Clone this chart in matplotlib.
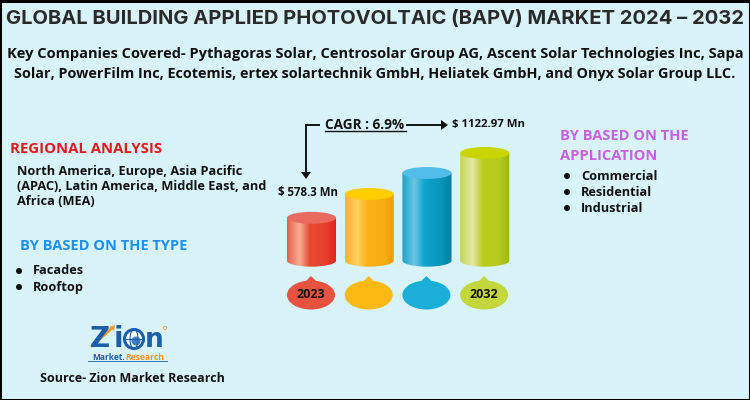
#!/usr/bin/env python3
"""Global BAPV market infographic."""

import matplotlib
matplotlib.use("Agg")
import matplotlib.pyplot as plt
import numpy as np
from matplotlib.colors import LinearSegmentedColormap
from matplotlib.patches import Circle, Ellipse, PathPatch, Polygon
from matplotlib.path import Path

TITLE = "GLOBAL BUILDING APPLIED PHOTOVOLTAIC (BAPV) MARKET 2024 – 2032"
COMPANIES = [
    "Key Companies Covered- Pythagoras Solar, Centrosolar Group AG, Ascent Solar Technologies Inc, Sapa",
    "Solar, PowerFilm Inc, Ecotemis, ertex solartechnik GmbH, Heliatek GmbH, and Onyx Solar Group LLC.",
]
REGIONS = [
    "North America, Europe, Asia Pacific",
    "(APAC), Latin America, Middle East, and",
    "Africa (MEA)",
]
TYPES = ["Facades", "Rooftop"]
APPLICATIONS = ["Commercial", "Residential", "Industrial"]

BAR_VALUES = [578.3, 779, 955, 1122.97]
BAR_YEARS = ["2023", "", "", "2032"]
BAR_BASE = 218

BAR_STOPS = [
    ["#E8604C", "#F9AF95", "#E84B30", "#E53E2A", "#E01F20"],
    ["#FDB52A", "#FFD160", "#FBB016", "#F7AC12", "#E89E10"],
    ["#1E9FCC", "#6CC5E2", "#0FA3CF", "#0895B8", "#057F9F"],
    ["#C5D552", "#E3E9A6", "#B9CE1F", "#B5CA1C", "#A0B320"],
]
TOP_COLORS = ["#E96A5F", "#FFCE00", "#52BCEB", "#CAD400"]
BUBBLE_COLORS = ["#E8533F", "#FDB913", "#1BAFD8", "#C3D63B"]

BG = "#D8F3FA"
INK = "#111111"
BODY_FONT = "Open Sans"

fig = plt.figure(figsize=(7.5, 4), dpi=100, facecolor=BG)

# overlay in pixel coordinates, for all the text and furniture
page = fig.add_axes([0, 0, 1, 1])
page.set_xlim(0, 750)
page.set_ylim(400, 0)
page.axis("off")


def label(x, y, text, size=9.2, color=INK, weight="bold", ha="left", family=BODY_FONT):
    return page.text(x, y, text, fontsize=size, color=color, fontweight=weight,
                     ha=ha, va="center", family=family)


def bullets(x, x_text, y_start, items, step):
    for i, item in enumerate(items):
        y = y_start + i * step
        page.add_patch(Circle((x, y), 2.3, color=INK))
        label(x_text, y, item)


label(375, 19, TITLE, size=14.5, color="#2A2A2A", ha="center", family="Inter")
label(375, 54, COMPANIES[0], size=10.5, ha="center")
label(375, 74, COMPANIES[1], size=10.35, ha="center")

label(10, 149, "REGIONAL ANALYSIS", size=10.7, color="#E01B1B")
for i, line in enumerate(REGIONS):
    label(17, 171.5 + i * 15, line, size=9.2)

label(20, 246, "BY BASED ON THE TYPE", size=10.55, color="#1E90F0")
bullets(19, 32.5, 271, TYPES, 16)

label(560, 136, "BY BASED ON THE", size=10.5, color="#C661E2")
label(560, 156, "APPLICATION", size=10.5, color="#C661E2")
bullets(567, 581, 176, APPLICATIONS, 16)

label(40, 378, "Source- Zion Market Research", size=9.0)

# cylinders
cyl = fig.add_axes([282.6 / 750, 130 / 400, 231 / 750, 130 / 400])
cyl.set_xlim(-0.5, 3.5)
cyl.set_ylim(140, 1232)
cyl.axis("off")
cyl.patch.set_alpha(0)

BAR_W = 0.85
CAP_H = 100
ramp = np.linspace(0, 1, 200).reshape(1, -1)
for i, value in enumerate(BAR_VALUES):
    left, right = i - BAR_W / 2, i + BAR_W / 2
    cmap = LinearSegmentedColormap.from_list(
        f"cyl{i}", list(zip([0, 0.25, 0.45, 0.8, 1], BAR_STOPS[i])))
    img = cyl.imshow(ramp, cmap=cmap, extent=(left, right, BAR_BASE - CAP_H, value),
                     aspect="auto", zorder=2)
    # round the bottom of the body with a half ellipse
    k = 0.5523
    rx, ry = BAR_W / 2, CAP_H / 2
    verts = [(left, value), (left, BAR_BASE),
             (left, BAR_BASE - k * ry), (i - k * rx, BAR_BASE - ry), (i, BAR_BASE - ry),
             (i + k * rx, BAR_BASE - ry), (right, BAR_BASE - k * ry), (right, BAR_BASE),
             (right, value), (left, value)]
    codes = [Path.MOVETO, Path.LINETO, Path.CURVE4, Path.CURVE4, Path.CURVE4,
             Path.CURVE4, Path.CURVE4, Path.CURVE4, Path.LINETO, Path.CLOSEPOLY]
    body = PathPatch(Path(verts, codes), transform=cyl.transData, fc="none", ec="none")
    cyl.add_patch(body)
    img.set_clip_path(body)
    cyl.add_patch(Ellipse((i, value), BAR_W, CAP_H, color=TOP_COLORS[i], zorder=3, lw=0))
cyl.set_xlim(-0.5, 3.5)
cyl.set_ylim(140, 1232)

# year bubbles under the cylinders
for i, (year, color) in enumerate(zip(BAR_YEARS, BUBBLE_COLORS)):
    cx = 311 + i * 57.7
    page.add_patch(Polygon([(cx - 7, 283), (cx, 276), (cx + 7, 283)], color=color, lw=0))
    page.add_patch(Ellipse((cx, 295), 48, 29, color=color, lw=0))
    if year:
        label(cx, 294.5, year, size=9.0, ha="center")

# CAGR callout
label(325, 125, "CAGR : 6.9%", size=9.8)
page.plot([325, 406], [131, 131], color=INK, lw=1.0)
page.plot([319, 306, 306], [125, 125, 172], color=INK, lw=1.4, solid_joinstyle="miter")
page.add_patch(Polygon([(301, 172), (311, 172), (306, 179)], color=INK, lw=0))
page.plot([407, 441], [125, 125], color=INK, lw=1.4)
page.add_patch(Polygon([(441, 120), (448, 125), (441, 130)], color=INK, lw=0))
label(452, 125, "$ 1122.97 Mn", size=8.2)
label(278, 192, "$ 578.3 Mn", size=8.3)

# logo
LOGO_BLUE = "#1B5FA8"
LOGO_ORANGE = "#F39A1F"
label(90, 339, "Z", size=20, color=LOGO_BLUE, family="DejaVu Sans")
label(114, 339, "i", size=20, color=LOGO_BLUE, family="DejaVu Sans")
page.add_patch(Circle((134, 339), 9.5, fc="white", ec=LOGO_BLUE, lw=2.2))
page.add_patch(Ellipse((134, 339), 8, 19, fc="none", ec=LOGO_BLUE, lw=0.8))
page.plot([125, 143], [339, 339], color=LOGO_BLUE, lw=0.8)
page.add_patch(Ellipse((136, 341), 9, 9, color=LOGO_BLUE, lw=0, alpha=0.8))
label(145, 340, "n", size=19, color=LOGO_BLUE, family="DejaVu Sans")
page.plot([92, 112], [346, 328], color=LOGO_ORANGE, lw=2.0)
page.add_patch(Polygon([(109, 327), (115, 325), (114, 331)], color=LOGO_ORANGE, lw=0))
page.add_patch(Circle((165, 328), 1.6, fc="none", ec=LOGO_ORANGE, lw=0.5))
label(92, 357, "Market.", size=6.0, color=LOGO_BLUE)
label(125, 357, "Research", size=6.2, color=LOGO_ORANGE)
page.plot([88, 167], [361, 361], color=LOGO_BLUE, lw=0.6)

# page border
page.plot([0, 750, 750, 0, 0], [0.5, 0.5, 399.5, 399.5, 0.5], color="black", lw=2.2,
          clip_on=False)

fig.savefig("out.png", dpi=100, facecolor=BG)
